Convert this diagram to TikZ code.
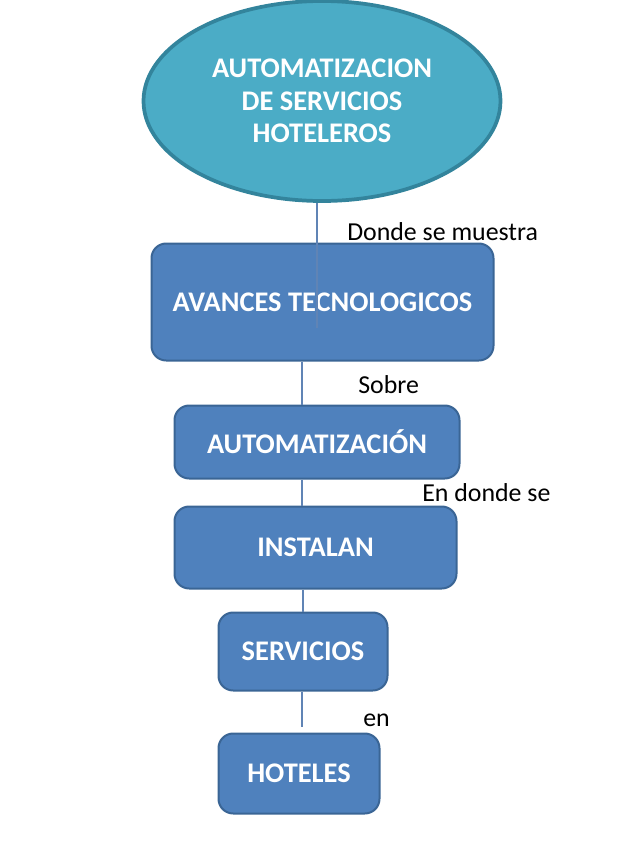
\documentclass[tikz,border=0pt]{standalone}
\usepackage{fontspec}
\setmainfont{Carlito}
\usetikzlibrary{shapes.geometric}
\definecolor{boxfill}{HTML}{4F81BD}
\definecolor{boxline}{HTML}{3A6595}
\definecolor{ellfill}{HTML}{4BACC6}
\definecolor{ellline}{HTML}{33849C}
\definecolor{conn}{HTML}{6084B5}
\tikzset{
  boxnode/.style={draw=boxline, line width=1.5pt, fill=boxfill, rounded corners=11pt,
    text=white, font=\fontsize{21.3}{25}\selectfont\bfseries, inner sep=0pt},
  ellnode/.style={ellipse, draw=ellline, line width=2.8pt, fill=ellfill, text=white,
    font=\fontsize{21.3}{24.5}\selectfont\bfseries, align=center, inner sep=0pt},
  conline/.style={draw=conn, line width=0.8pt},
  lbl/.style={anchor=west, inner sep=0pt, font=\fontsize{19.4}{22}\selectfont}
}
\begin{document}
\begin{tikzpicture}[x=0.75pt,y=-0.75pt]
\useasboundingbox (0,0) rectangle (638,851);
% nodes
\node[ellnode, minimum width=357*0.75pt, minimum height=200*0.75pt] (e) at (322,101)
  {AUTOMATIZACION\\DE SERVICIOS\\HOTELEROS};
\node[boxnode, minimum width=342*0.75pt, minimum height=117*0.75pt] (b1) at (322.5,302) {AVANCES TECNOLOGICOS};
\node[boxnode, minimum width=285*0.75pt, minimum height=73*0.75pt] (b2) at (317,442) {AUTOMATIZACIÓN};
\node[boxnode, minimum width=282*0.75pt, minimum height=82*0.75pt] (b3) at (315.5,547.5) {INSTALAN};
\node[boxnode, minimum width=169*0.75pt, minimum height=78*0.75pt] (b4) at (303,651.5) {SERVICIOS};
\node[boxnode, minimum width=161*0.75pt, minimum height=80*0.75pt] (b5) at (299,773.5) {HOTELES};
% connectors
\coordinate (c1) at (317,328);
\coordinate (c5) at (302,727);
\draw[conline] (e.south -| c1) -- (c1);
\draw[conline] (b1.south -| 302,0) -- (b2.north -| 302,0);
\draw[conline] (b2.south -| 302,0) -- (b3.north -| 302,0);
\draw[conline] (b3.south -| 303,0) -- (b4.north -| 303,0);
\draw[conline] (b4.south -| c5) -- (c5);
% labels
\node[lbl] (l1) at (347,232) {Donde se muestra};
\node[lbl] (l2) at (358,385) {Sobre};
\node[lbl] (l3) at (422,493) {En donde se};
\node[lbl] (l4) at (363,720) {en};
\end{tikzpicture}
\end{document}
